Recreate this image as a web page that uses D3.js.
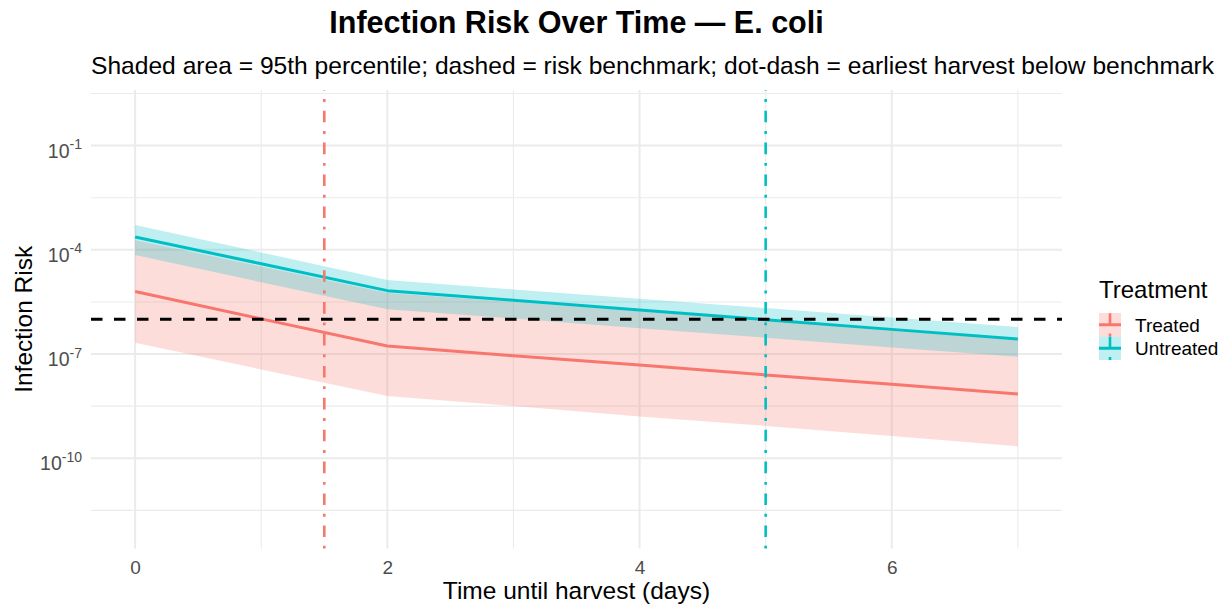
<!DOCTYPE html>
<html>
<head>
<meta charset="utf-8">
<script src="https://cdn.jsdelivr.net/npm/d3@7"></script>
<style>
    body { margin: 0; background: #fff; }
    text { font-family: "Liberation Sans", Arial, sans-serif; }
</style>
</head>
<body>
<div id="chart"></div>
<script>
// data (risk per day, log scale)
const days = [0, 1, 2, 3, 4, 5, 6, 7];

const treatedMedian = [6.3e-6, 1.03e-6, 1.7e-7, 8.9e-8, 4.8e-8, 2.5e-8, 1.35e-8, 7.1e-9];
const treatedLower = [2.1e-7, 3.6e-8, 6.2e-9, 3.2e-9, 1.6e-9, 8.5e-10, 4.4e-10, 2.2e-10];
const treatedUpper = [1.9e-4, 3.3e-5, 5.75e-6, 3.15e-6, 1.7e-6, 9.3e-7, 5.1e-7, 2.8e-7];

const untreatedMedian = [2.34e-4, 3.98e-5, 6.68e-6, 3.55e-6, 1.86e-6, 9.77e-7, 5.13e-7, 2.72e-7];
const untreatedLower = [7.1e-5, 1.17e-5, 1.95e-6, 1.05e-6, 5.5e-7, 2.95e-7, 1.55e-7, 8.3e-8];
const untreatedUpper = [5.2e-4, 8.4e-5, 1.35e-5, 7.2e-6, 3.9e-6, 2.1e-6, 1.12e-6, 6.0e-7];

const groups = ["Treated", "Untreated"];
const groupColors = ["#F8766D", "#00BFC4"];
const earliestHarvest = [1.5, 5];
const benchmark = 1e-6;

const xTicks = [0, 2, 4, 6];
const xMinor = [1, 3, 5, 7];
const yTicks = [1e-1, 1e-4, 1e-7, 1e-10];
const yMinor = [10 ** 0.5, 10 ** -2.5, 10 ** -5.5, 10 ** -8.5, 10 ** -11.5];

const W = 1225, H = 607;
const panel = { left: 91, right: 1062, top: 90, bottom: 548.6 };

const svg = d3.select("#chart").append("svg")
    .attr("width", W)
    .attr("height", H);

svg.append("rect").attr("width", W).attr("height", H).attr("fill", "#fff");

const x = d3.scaleLinear().domain([-0.35, 7.35]).range([panel.left, panel.right]);
const y = d3.scaleLog().domain([10 ** -12.6, 10 ** 0.6]).range([panel.bottom, panel.top]);

const series = [
    { name: groups[0], color: groupColors[0], med: treatedMedian, lo: treatedLower, hi: treatedUpper, harvest: earliestHarvest[0] },
    { name: groups[1], color: groupColors[1], med: untreatedMedian, lo: untreatedLower, hi: untreatedUpper, harvest: earliestHarvest[1] }
];

// grid
const grid = svg.append("g");
grid.selectAll(".ymin").data(yMinor).enter().append("line")
    .attr("x1", panel.left).attr("x2", panel.right)
    .attr("y1", d => y(d)).attr("y2", d => y(d))
    .attr("stroke", "#EBEBEB").attr("stroke-width", 1.1);
grid.selectAll(".xmin").data(xMinor).enter().append("line")
    .attr("y1", panel.top).attr("y2", panel.bottom)
    .attr("x1", d => x(d)).attr("x2", d => x(d))
    .attr("stroke", "#EBEBEB").attr("stroke-width", 1.1);
grid.selectAll(".ymaj").data(yTicks).enter().append("line")
    .attr("x1", panel.left).attr("x2", panel.right)
    .attr("y1", d => y(d)).attr("y2", d => y(d))
    .attr("stroke", "#EBEBEB").attr("stroke-width", 2);
grid.selectAll(".xmaj").data(xTicks).enter().append("line")
    .attr("y1", panel.top).attr("y2", panel.bottom)
    .attr("x1", d => x(d)).attr("x2", d => x(d))
    .attr("stroke", "#EBEBEB").attr("stroke-width", 2);

// ribbons
const area = d3.area()
    .x(d => x(d.day))
    .y0(d => y(d.lo))
    .y1(d => y(d.hi));

series.forEach(s => {
    const pts = days.map((d, i) => ({ day: d, lo: s.lo[i], hi: s.hi[i] }));
    svg.append("path")
        .datum(pts)
        .attr("fill", s.color)
        .attr("fill-opacity", 0.25)
        .attr("d", area);
});

// median lines
const line = d3.line()
    .x(d => x(d.day))
    .y(d => y(d.v));

series.forEach(s => {
    const pts = days.map((d, i) => ({ day: d, v: s.med[i] }));
    svg.append("path")
        .datum(pts)
        .attr("fill", "none")
        .attr("stroke", s.color)
        .attr("stroke-width", 3)
        .attr("stroke-linejoin", "round")
        .attr("d", line);
});

// benchmark
svg.append("line")
    .attr("x1", panel.left).attr("x2", panel.right)
    .attr("y1", y(benchmark)).attr("y2", y(benchmark))
    .attr("stroke", "#000")
    .attr("stroke-width", 3)
    .attr("stroke-dasharray", "11.5,11.5");

// earliest harvest (dot-dash), drawn bottom to top
const dotDash = "2.9,8.7,11.6,8.7";
series.forEach(s => {
    svg.append("line")
        .attr("x1", x(s.harvest)).attr("x2", x(s.harvest))
        .attr("y1", panel.bottom).attr("y2", panel.top)
        .attr("stroke", s.color)
        .attr("stroke-width", 2.6)
        .attr("stroke-dasharray", dotDash);
});

// x axis
svg.append("g")
    .attr("transform", `translate(0,${panel.bottom})`)
    .call(d3.axisBottom(x).tickValues(xTicks).tickSize(0).tickFormat(d3.format("d")))
    .call(g => g.select(".domain").remove())
    .call(g => g.selectAll(".tick text")
        .attr("y", 25.5).attr("dy", 0)
        .attr("fill", "#4D4D4D")
        .style("font-size", "19px"));

// y axis with superscript exponents
svg.append("g")
    .attr("transform", `translate(${panel.left},0)`)
    .call(d3.axisLeft(y).tickValues(yTicks).tickSize(0).tickFormat(""))
    .call(g => g.select(".domain").remove())
    .call(g => g.selectAll(".tick text").remove())
    .call(g => g.selectAll(".tick").each(function (d) {
        const t = d3.select(this).append("text")
            .attr("x", -9)
            .attr("y", 11.5)
            .attr("text-anchor", "end")
            .attr("fill", "#4D4D4D")
            .style("font-size", "19.5px");
        t.append("tspan").text("10");
        t.append("tspan")
            .attr("dy", -8.5)
            .style("font-size", "14px")
            .text(Math.round(Math.log10(d)));
    }));

// titles
svg.append("text")
    .attr("x", (panel.left + panel.right) / 2)
    .attr("y", 33)
    .attr("text-anchor", "middle")
    .style("font-size", "30.5px")
    .style("font-weight", "bold")
    .text("Infection Risk Over Time \u2014 E. coli");

svg.append("text")
    .attr("x", panel.left)
    .attr("y", 74)
    .style("font-size", "24.6px")
    .text("Shaded area = 95th percentile; dashed = risk benchmark; dot-dash = earliest harvest below benchmark");

svg.append("text")
    .attr("x", (panel.left + panel.right) / 2)
    .attr("y", 599)
    .attr("text-anchor", "middle")
    .style("font-size", "24.5px")
    .text("Time until harvest (days)");

svg.append("text")
    .attr("transform", `translate(31.5,${(panel.top + panel.bottom) / 2}) rotate(-90)`)
    .attr("text-anchor", "middle")
    .style("font-size", "24.5px")
    .text("Infection Risk");

// legend
const legend = svg.append("g").attr("transform", "translate(1099,0)");
legend.append("text")
    .attr("x", 0).attr("y", 298)
    .style("font-size", "24px")
    .text("Treatment");

const keyW = 22, keyH = 23.5;
const keys = legend.selectAll(".key").data(series).enter().append("g")
    .attr("transform", (d, i) => `translate(0,${313 + i * keyH})`);
keys.append("rect")
    .attr("width", keyW).attr("height", keyH)
    .attr("fill", d => d.color).attr("fill-opacity", 0.25);
keys.append("line")
    .attr("x1", 0).attr("x2", keyW)
    .attr("y1", keyH / 2).attr("y2", keyH / 2)
    .attr("stroke", d => d.color).attr("stroke-width", 3);
keys.append("line")
    .attr("x1", keyW / 2).attr("x2", keyW / 2)
    .attr("y1", keyH).attr("y2", 0)
    .attr("stroke", d => d.color).attr("stroke-width", 2.6)
    .attr("stroke-dasharray", dotDash);
keys.append("text")
    .attr("x", keyW + 14)
    .attr("y", keyH / 2 + 7)
    .style("font-size", "19px")
    .text(d => d.name);
</script>
</body>
</html>
